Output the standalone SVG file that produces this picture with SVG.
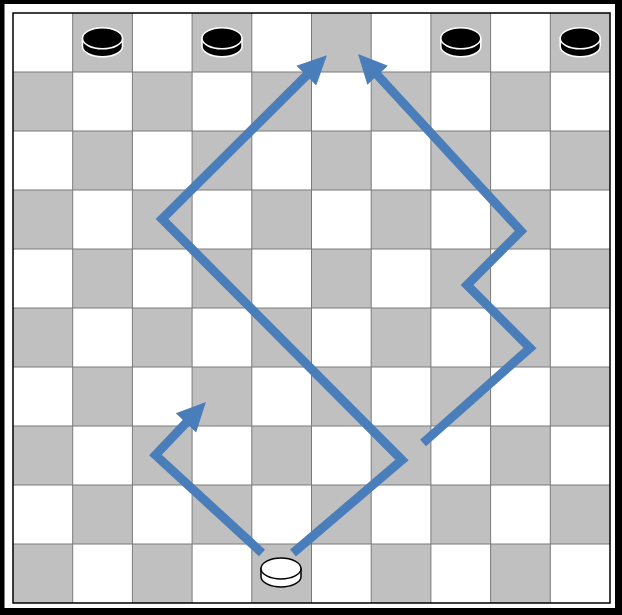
<svg xmlns="http://www.w3.org/2000/svg" xmlns:xlink="http://www.w3.org/1999/xlink" width="622" height="615" viewBox="0 0 622 615">
  <style>
    .sq { fill: #c0c0c0; }
    .grid { stroke: #7a7a7a; stroke-width: 1; }
    .arrow { fill: none; stroke: #4a7ebb; stroke-width: 9; stroke-linejoin: miter; stroke-linecap: butt; marker-end: url(#head); }
    .blk { fill: #000; stroke: #fff; stroke-width: 1.5; }
    .wht { fill: #fff; stroke: #000; stroke-width: 1.5; }
  </style>
  <defs>
    <marker id="head" markerUnits="userSpaceOnUse" markerWidth="30" markerHeight="30" refX="15" refY="14" orient="auto" viewBox="0 0 30 28">
      <path d="M0,0 L29,14 L0,28 z" fill="#4a7ebb"/>
    </marker>
    <g id="rowOdd">
      <rect class="sq" x="72.7" y="0" width="59.7" height="59"/>
      <rect class="sq" x="192.1" y="0" width="59.7" height="59"/>
      <rect class="sq" x="311.5" y="0" width="59.7" height="59"/>
      <rect class="sq" x="430.9" y="0" width="59.7" height="59"/>
      <rect class="sq" x="550.3" y="0" width="59.7" height="59"/>
    </g>
    <g id="rowEven">
      <rect class="sq" x="13" y="0" width="59.7" height="59"/>
      <rect class="sq" x="132.4" y="0" width="59.7" height="59"/>
      <rect class="sq" x="251.8" y="0" width="59.7" height="59"/>
      <rect class="sq" x="371.2" y="0" width="59.7" height="59"/>
      <rect class="sq" x="490.6" y="0" width="59.7" height="59"/>
    </g>
    <g id="pieceBlack">
      <path class="blk" d="M-20,0 L-20,8 A20,10.5 0 0 0 20,8 L20,0 z"/>
      <ellipse class="blk" cx="0" cy="0" rx="20" ry="10.5"/>
    </g>
    <g id="pieceWhite">
      <path class="wht" d="M-20,0 L-20,8 A20,10.5 0 0 0 20,8 L20,0 z"/>
      <ellipse class="wht" cx="0" cy="0" rx="20" ry="10.5"/>
    </g>
  </defs>

  <g id="frame">
    <rect x="0" y="0" width="622" height="615" fill="#000"/>
    <rect x="4.5" y="4" width="610.5" height="604" fill="#fff"/>
  </g>

  <g id="board">
    <rect x="13" y="13" width="597" height="590" fill="#fff"/>
    <use xlink:href="#rowOdd" y="13"/>
    <use xlink:href="#rowEven" y="72"/>
    <use xlink:href="#rowOdd" y="131"/>
    <use xlink:href="#rowEven" y="190"/>
    <use xlink:href="#rowOdd" y="249"/>
    <use xlink:href="#rowEven" y="308"/>
    <use xlink:href="#rowOdd" y="367"/>
    <use xlink:href="#rowEven" y="426"/>
    <use xlink:href="#rowOdd" y="485"/>
    <use xlink:href="#rowEven" y="544"/>
    <g class="grid">
      <line x1="72.7" y1="13" x2="72.7" y2="603"/>
      <line x1="132.4" y1="13" x2="132.4" y2="603"/>
      <line x1="192.1" y1="13" x2="192.1" y2="603"/>
      <line x1="251.8" y1="13" x2="251.8" y2="603"/>
      <line x1="311.5" y1="13" x2="311.5" y2="603"/>
      <line x1="371.2" y1="13" x2="371.2" y2="603"/>
      <line x1="430.9" y1="13" x2="430.9" y2="603"/>
      <line x1="490.6" y1="13" x2="490.6" y2="603"/>
      <line x1="550.3" y1="13" x2="550.3" y2="603"/>
      <line x1="13" y1="72" x2="610" y2="72"/>
      <line x1="13" y1="131" x2="610" y2="131"/>
      <line x1="13" y1="190" x2="610" y2="190"/>
      <line x1="13" y1="249" x2="610" y2="249"/>
      <line x1="13" y1="308" x2="610" y2="308"/>
      <line x1="13" y1="367" x2="610" y2="367"/>
      <line x1="13" y1="426" x2="610" y2="426"/>
      <line x1="13" y1="485" x2="610" y2="485"/>
      <line x1="13" y1="544" x2="610" y2="544"/>
    </g>
    <rect x="13" y="13" width="597" height="590" fill="none" stroke="#000" stroke-width="1.5"/>
  </g>

  <g id="black-piece-1" transform="translate(102.5,38.3)"><use xlink:href="#pieceBlack"/></g>
  <g id="black-piece-2" transform="translate(222,38.3)"><use xlink:href="#pieceBlack"/></g>
  <g id="black-piece-3" transform="translate(460.8,38.3)"><use xlink:href="#pieceBlack"/></g>
  <g id="black-piece-4" transform="translate(580.2,38.3)"><use xlink:href="#pieceBlack"/></g>
  <g id="white-piece" transform="translate(281,568.5)"><use xlink:href="#pieceWhite"/></g>

  <g id="connectors">
    <polyline class="arrow" points="262,553 155.5,455 196.3,412.1"/>
    <polyline class="arrow" points="293,553 402,460 162,219 317,65"/>
    <polyline class="arrow" points="423,443 530,348 467,285 521,231 367.5,64.3"/>
  </g>
</svg>
